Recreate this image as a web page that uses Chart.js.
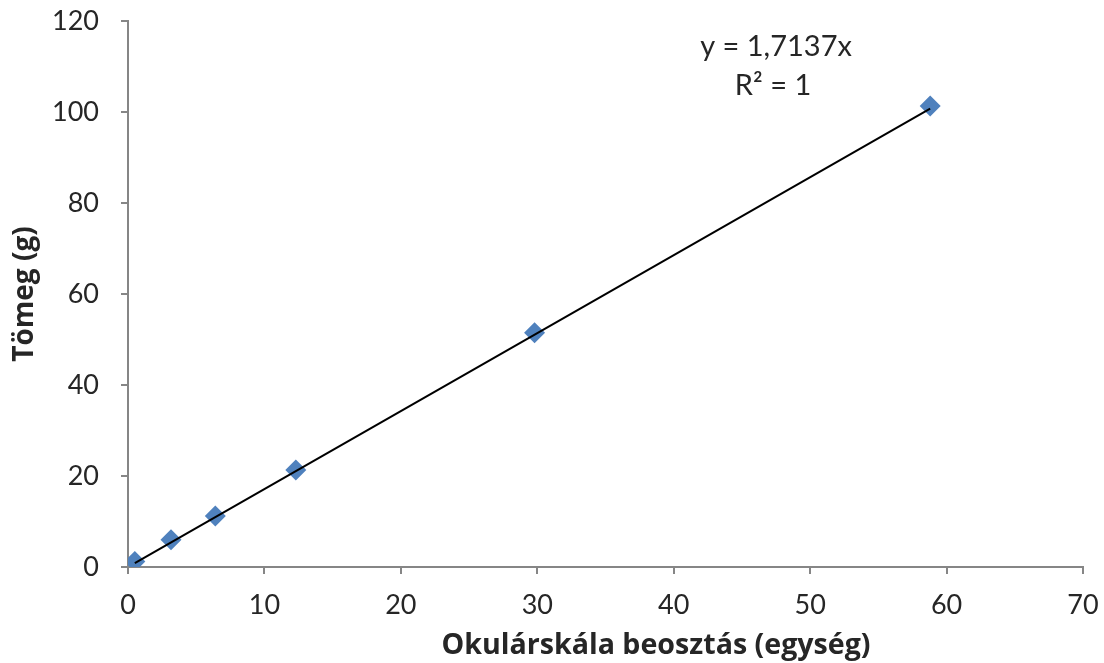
<!DOCTYPE html>
<html>
<head>
<meta charset="utf-8">
<script src="https://cdn.jsdelivr.net/npm/chart.js@4.4.1/dist/chart.umd.min.js"></script>
<style>
  html, body { margin: 0; padding: 0; background: #ffffff; }
  #wrap { width: 1104px; height: 663px; }
</style>
</head>
<body>
<div id="wrap"><canvas id="c" width="1104" height="663"></canvas></div>
<script>
// ---- data ----
const scaleX = [0.5, 3.15, 6.4, 12.3, 29.8, 58.8];   // Okulárskála beosztás (egység)
const massY  = [1.2, 6.0, 11.2, 21.3, 51.5, 101.3];   // Tömeg (g)
const slope = 1.7137;
const xTicks = [0, 10, 20, 30, 40, 50, 60, 70];
const yTicks = [0, 20, 40, 60, 80, 100, 120];
const eqLines = ['y = 1,7137x', 'R² = 1'];
const xTitle = 'Okulárskála beosztás (egység)';
const yTitle = 'Tömeg (g)';

const points = scaleX.map((x, i) => ({ x: x, y: massY[i] }));
const xMin = Math.min(...scaleX), xMax = Math.max(...scaleX);
const trend = [{ x: xMin, y: slope * xMin }, { x: xMax, y: slope * xMax }];

const FONT = 'Lato, "Open Sans", sans-serif';
const TFONT = '"Open Sans", Lato, sans-serif';
const axisGray = '#868686';

const textPlugin = {
  id: 'texts',
  afterDraw(chart) {
    const ctx = chart.ctx;
    const xs = chart.scales.x, ys = chart.scales.y;
    ctx.save();
    ctx.fillStyle = '#262626';
    // trendline equation
    ctx.font = '29px ' + FONT;
    ctx.textAlign = 'center';
    ctx.textBaseline = 'middle';
    const cx = xs.getPixelForValue(47.5);
    ctx.fillText(eqLines[0], cx, ys.getPixelForValue(114.3));
    ctx.fillText(eqLines[1], cx - 3, ys.getPixelForValue(105.9));
    // x axis title (offset to the right as in the original)
    ctx.font = 'bold 28.6px ' + TFONT;
    ctx.textBaseline = 'alphabetic';
    ctx.fillText(xTitle, xs.getPixelForValue(38.7), xs.bottom - 9.5);
    ctx.restore();
  }
};

new Chart(document.getElementById('c'), {
  type: 'scatter',
  data: {
    datasets: [
      {
        type: 'line',
        label: 'trend',
        data: trend,
        borderColor: '#000000',
        borderWidth: 2,
        pointRadius: 0,
        fill: false,
        order: 0
      },
      {
        label: 'mért',
        data: points,
        pointStyle: 'rectRot',
        pointRadius: 10.5,
        pointHoverRadius: 10.5,
        backgroundColor: '#4F81BD',
        borderColor: '#4F81BD',
        borderWidth: 0,
        order: 1
      }
    ]
  },
  options: {
    responsive: false,
    animation: false,
    events: [],
    layout: { padding: { top: 21, right: 21, left: 0, bottom: 0 } },
    plugins: { legend: { display: false }, tooltip: { enabled: false } },
    scales: {
      x: {
        type: 'linear',
        min: 0, max: 70,
        afterBuildTicks: s => { s.ticks = xTicks.map(v => ({ value: v })); },
        afterFit: s => { s.height = 96; s.paddingLeft = 0; s.paddingRight = 0; },
        border: { display: true, color: axisGray, width: 2 },
        grid: { drawOnChartArea: false, drawTicks: true, tickLength: 7, color: axisGray, lineWidth: 2 },
        ticks: { color: '#262626', font: { family: FONT, size: 27 }, padding: 15 },
        title: { display: false, text: xTitle }
      },
      y: {
        type: 'linear',
        min: 0, max: 120,
        afterBuildTicks: s => { s.ticks = yTicks.map(v => ({ value: v })); },
        afterFit: s => { s.width = 128; s.paddingTop = 0; s.paddingBottom = 0; },
        border: { display: true, color: axisGray, width: 2 },
        grid: { drawOnChartArea: false, drawTicks: true, tickLength: 7, color: axisGray, lineWidth: 2 },
        ticks: { color: '#262626', font: { family: FONT, size: 27 }, padding: 22 },
        title: { display: true, text: yTitle, color: '#262626', font: { family: TFONT, size: 28, weight: 'bold' }, padding: { top: 8, bottom: 0 } }
      }
    }
  },
  plugins: [textPlugin]
});
</script>
</body>
</html>
